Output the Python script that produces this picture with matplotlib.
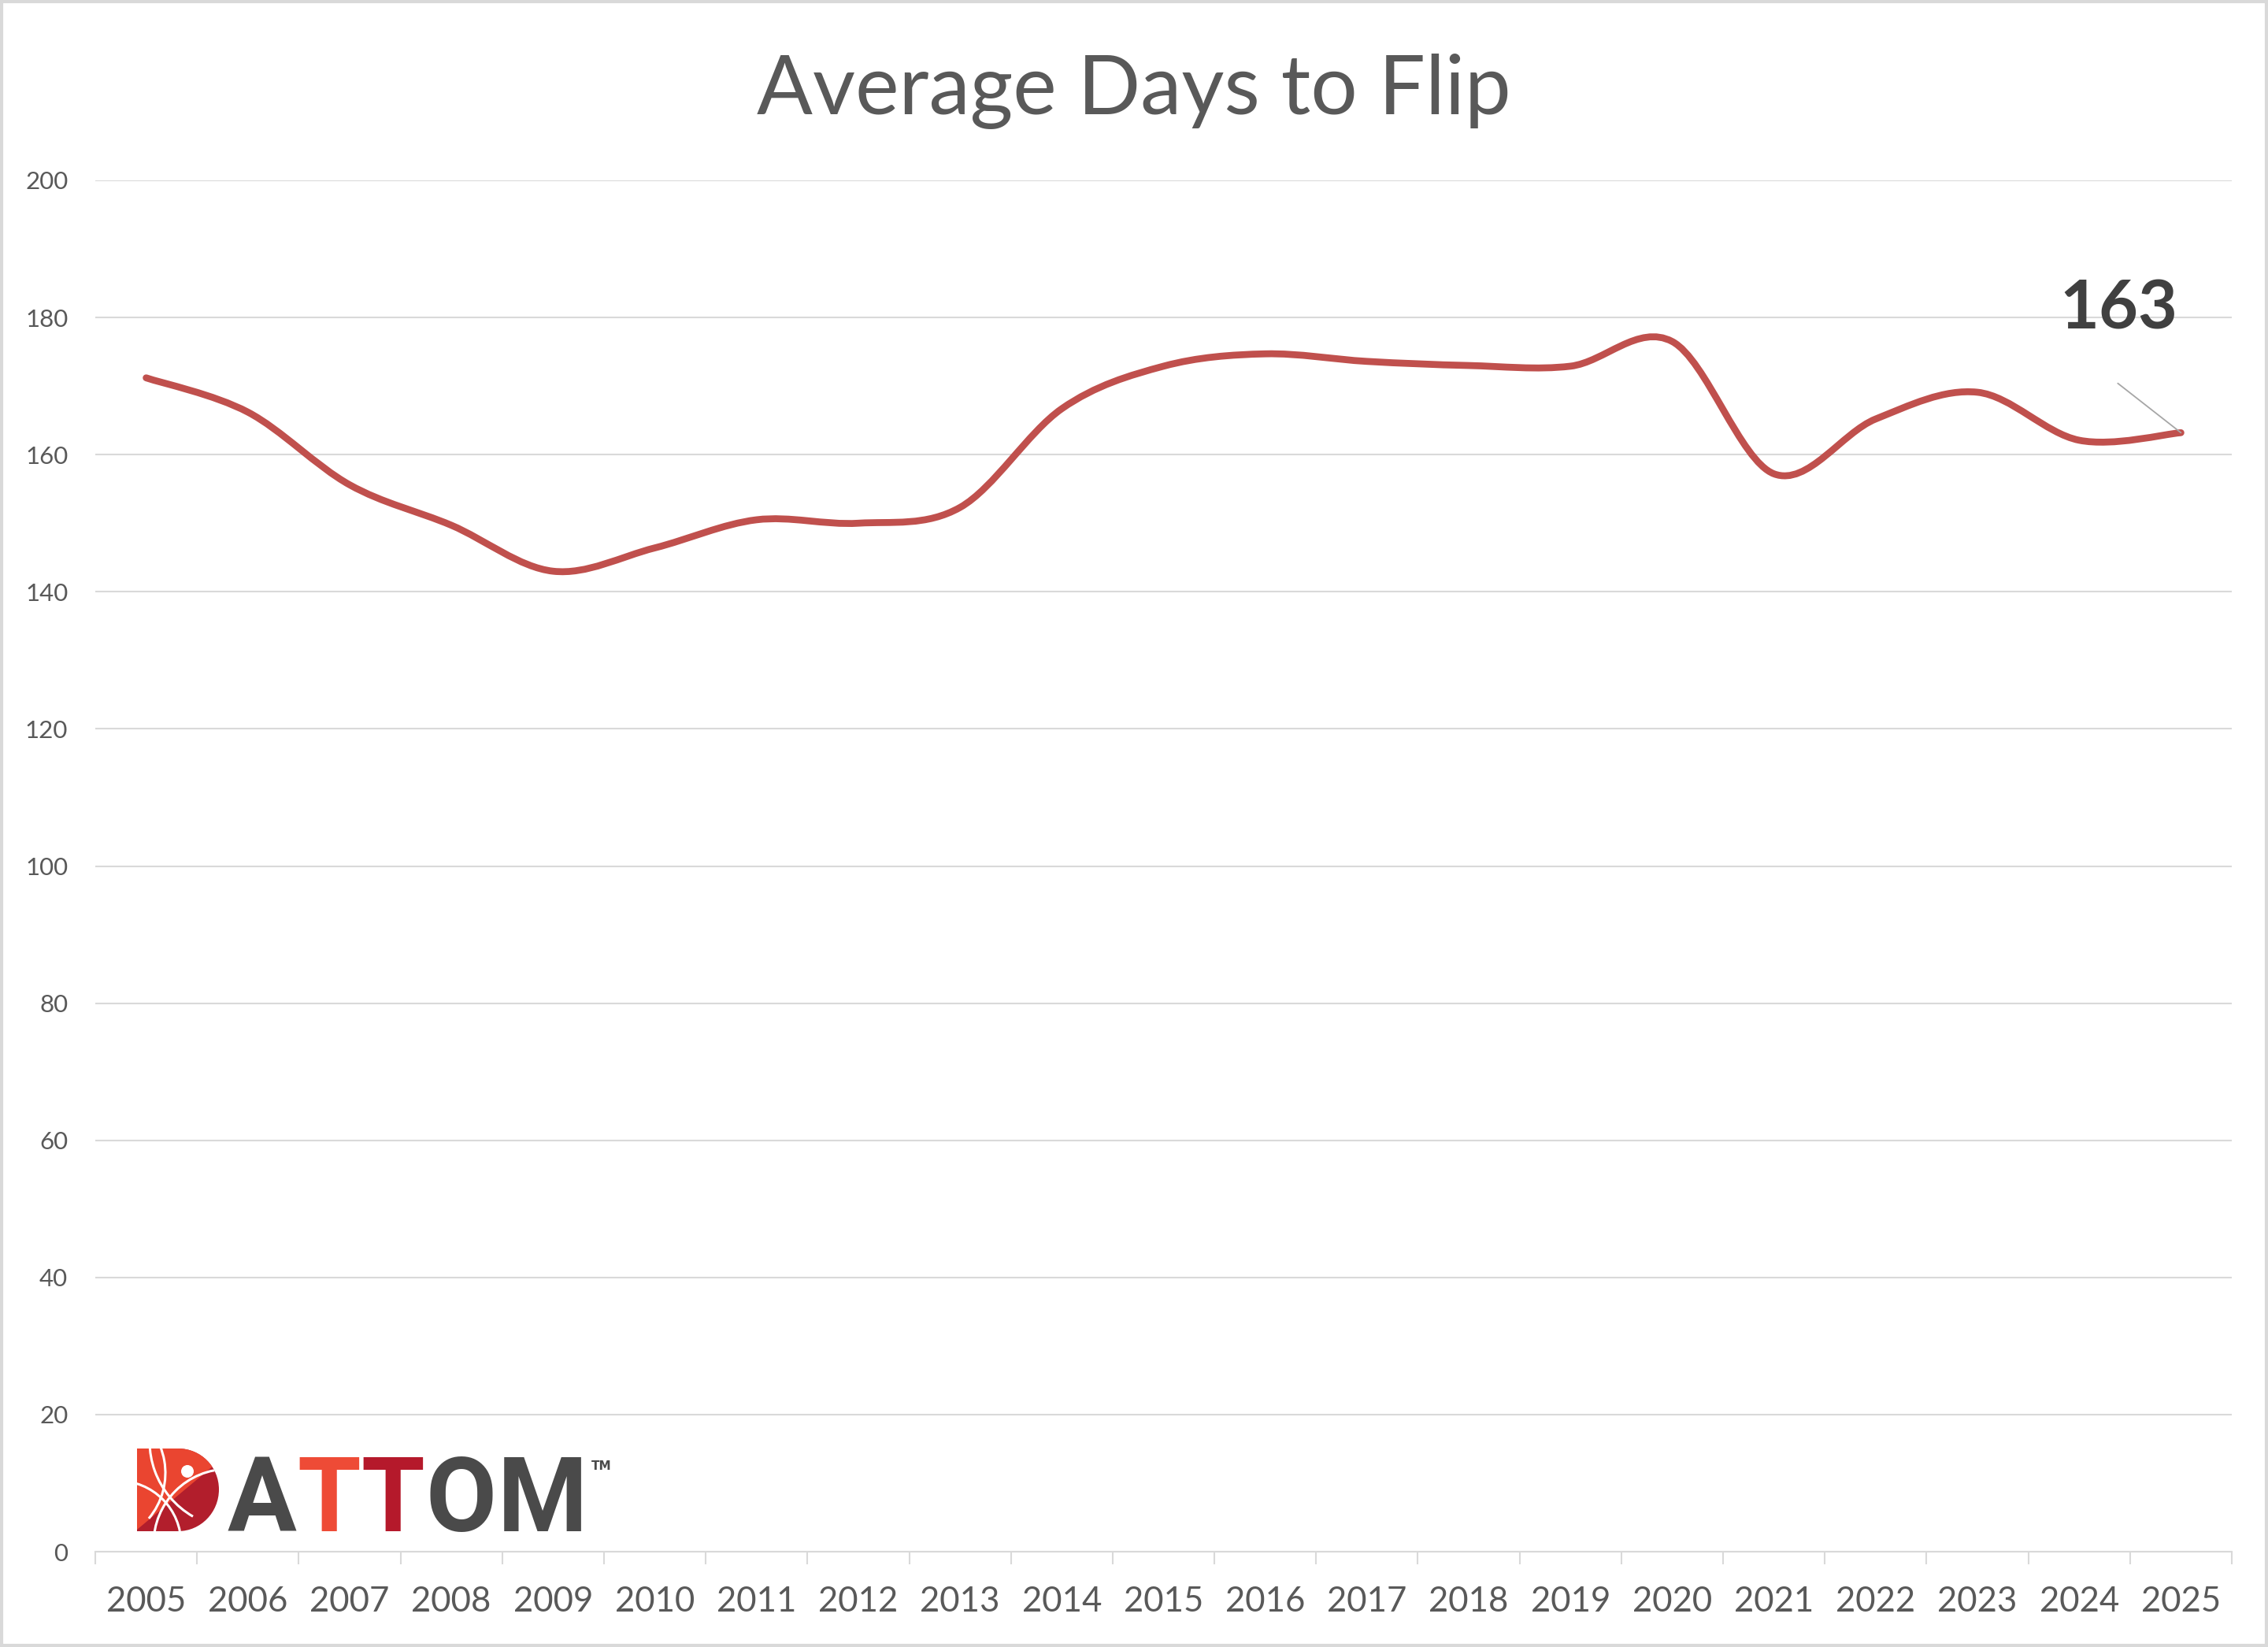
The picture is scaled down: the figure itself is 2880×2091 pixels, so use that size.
import matplotlib
matplotlib.use("Agg")
import matplotlib.pyplot as plt
import numpy as np
from matplotlib.path import Path
from matplotlib.patches import PathPatch, Rectangle, Polygon, Circle, Arc

# data
years = ['2005', '2006', '2007', '2008', '2009', '2010', '2011', '2012', '2013', '2014',
         '2015', '2016', '2017', '2018', '2019', '2020', '2021', '2022', '2023', '2024', '2025']
avg_days = [171.2, 166.2, 155.6, 149.7, 143.0, 146.4, 150.5, 150.0, 152.3, 166.7,
            172.9, 174.7, 173.6, 173.0, 172.9, 176.5, 157.2, 165.2, 169.1, 162.1, 163.2]
y_ticks = [0, 20, 40, 60, 80, 100, 120, 140, 160, 180, 200]
title = 'Average Days to Flip'

W, H = 2880, 2091
GRID = '#D9D9D9'
TXT = '#595959'
RED = '#C0504D'
FONT = 'Lato'

plt.rcParams['font.family'] = [FONT, 'DejaVu Sans']

fig = plt.figure(figsize=(W / 100, H / 100), dpi=100)
fig.patch.set_facecolor('white')

# plot area
x0, x1, ytop, ybot = 121, 2834, 229, 1970
ax = fig.add_axes([x0 / W, 1 - ybot / H, (x1 - x0) / W, (ybot - ytop) / H])
ax.set_xlim(-0.5, len(years) - 0.5)
ax.set_ylim(0, 200)

# smoothed line (Excel-like bezier through every point)
xs = np.arange(len(years), dtype=float)
ys = np.array(avg_days, dtype=float)
verts = [(xs[0], ys[0])]
codes = [Path.MOVETO]
n = len(xs)
for i in range(n - 1):
    p0 = np.array([xs[max(i - 1, 0)], ys[max(i - 1, 0)]])
    p1 = np.array([xs[i], ys[i]])
    p2 = np.array([xs[i + 1], ys[i + 1]])
    p3 = np.array([xs[min(i + 2, n - 1)], ys[min(i + 2, n - 1)]])
    c1 = p1 + (p2 - p0) / 6
    c2 = p2 - (p3 - p1) / 6
    verts += [tuple(c1), tuple(c2), tuple(p2)]
    codes += [Path.CURVE4] * 3
line = PathPatch(Path(verts, codes), fill=False, edgecolor=RED, lw=6.3,
                 capstyle='round', joinstyle='round', zorder=3)
ax.add_patch(line)

# axes styling
ax.set_yticks(y_ticks)
ax.set_yticklabels([str(v) for v in y_ticks], fontsize=22.5, color=TXT)
ax.tick_params(axis='y', length=0, pad=25)
ax.set_xticks(xs)
ax.set_xticklabels(years, fontsize=31.5, color=TXT)
ax.set_xticks(np.arange(-0.5, len(years), 1.0), minor=True)
ax.tick_params(axis='x', which='major', length=0, pad=31)
ax.tick_params(axis='x', which='minor', length=11.5, width=1.5, color=GRID)
ax.grid(axis='y', color=GRID, lw=1.5, zorder=0)
ax.set_axisbelow(True)
for s in ['top', 'right', 'left']:
    ax.spines[s].set_visible(False)
ax.spines['bottom'].set_color(GRID)
ax.spines['bottom'].set_linewidth(1.5)

# last value label with leader
last = len(years) - 1
ax.annotate('', xy=(last, avg_days[-1]), xytext=(last - 0.62, 170.4),
            arrowprops=dict(arrowstyle='-', color='#A6A6A6', lw=1.3,
                            shrinkA=0, shrinkB=0), zorder=4)
ax.text(last - 0.61, 178.3, f'{avg_days[-1]:.0f}', ha='center', va='baseline',
        fontsize=62, fontweight='bold', color='#404040')

# title
fig.text(0.5, 1 - 145 / H, title, ha='center', va='baseline', fontsize=75.5, color=TXT)

# overlay in pixel coords for logo and frame
ov = fig.add_axes([0, 0, 1, 1], facecolor='none')
ov.set_xlim(0, W)
ov.set_ylim(H, 0)
ov.axis('off')

ov.add_patch(Rectangle((2, 2), W - 4, H - 4, fill=False, edgecolor=GRID, lw=3))

# ATTOM logo mark
d_path = Path([(174, 1839), (226, 1839), (255, 1839), (278, 1862), (278, 1891),
               (278, 1920), (255, 1944), (226, 1944), (174, 1944), (174, 1839)],
              [Path.MOVETO, Path.LINETO, Path.CURVE4, Path.CURVE4, Path.CURVE4,
               Path.CURVE4, Path.CURVE4, Path.CURVE4, Path.LINETO, Path.CLOSEPOLY])
dark = PathPatch(d_path, facecolor='#B21E2C', edgecolor='none')
ov.add_patch(dark)
light = Polygon([(170, 1835), (290, 1835), (290, 1845), (174, 1942), (170, 1942)],
                closed=True, facecolor='#EA4530', edgecolor='none')
ov.add_patch(light)
light.set_clip_path(dark)
for c, r, t1, t2 in [((290, 1960), 95, 180, 270), ((150, 1960), 80, 270, 360),
                     ((300, 1830), 110, 120, 200), ((120, 1870), 90, 300, 400)]:
    a = Arc(c, 2 * r, 2 * r, theta1=t1, theta2=t2, color='white', lw=2.2)
    ov.add_patch(a)
    a.set_clip_path(dark)
dot = Circle((238, 1868), 8, facecolor='white', edgecolor='none')
ov.add_patch(dot)

# wordmark: letters placed one after another so they don't overlap
letters = ['A', 'T', 'T', 'O', 'M']
colors = ['#4A4A4A', '#EE4B36', '#B5192B', '#4A4A4A', '#4A4A4A']
renderer = fig.canvas.get_renderer()
inv = ov.transData.inverted()
cx = 288
for ch, col in zip(letters, colors):
    t = ov.text(cx, 1944, ch, ha='left', va='baseline', fontsize=94,
                fontweight='bold', color=col, family='Roboto')
    bb = t.get_window_extent(renderer)
    right = inv.transform((bb.x1, bb.y0))[0]
    cx = right + 1
ov.text(cx + 4, 1866, 'TM', ha='left', va='baseline', fontsize=11,
        fontweight='bold', color='#4A4A4A', family='DejaVu Sans')

fig.savefig('out.png', dpi=100)
